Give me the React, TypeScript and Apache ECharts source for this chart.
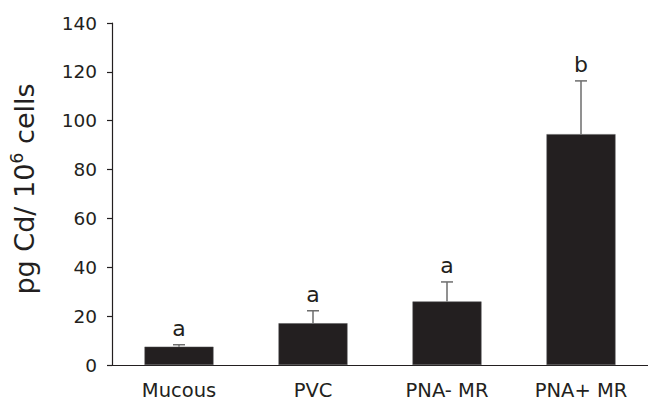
import React, { useEffect, useRef } from "react";
import * as echarts from "echarts";

const categories = ["Mucous", "PVC", "PNA- MR", "PNA+ MR"];
const means = [7.5, 17.1, 26.0, 94.5];
const errorTops = [8.3, 22.2, 34.0, 116.3];
const letters = ["a", "a", "a", "b"];
const yTicks = [0, 20, 40, 60, 80, 100, 120, 140];

const FONT = "DejaVu Sans, sans-serif";
const INK = "#231f20";

export default function App() {
  const ref = useRef<HTMLDivElement>(null);
  useEffect(() => {
    if (!ref.current) return;
    const chart = echarts.init(ref.current, undefined, { renderer: "svg" });
    chart.setOption({
      animation: false,
      backgroundColor: "#ffffff",
      grid: { left: 112, right: -10, top: 23, bottom: 36, containLabel: false },
      xAxis: {
        type: "category",
        data: categories,
        axisLine: { lineStyle: { color: INK, width: 1.2 } },
        axisTick: { show: false },
        axisLabel: { color: INK, fontSize: 19.5, lineHeight: 18, fontFamily: FONT, margin: 16 },
      },
      yAxis: {
        type: "value",
        min: yTicks[0],
        max: yTicks[yTicks.length - 1],
        interval: 20,
        splitLine: { show: false },
        axisLine: { show: true, lineStyle: { color: INK, width: 1.2 } },
        axisTick: { show: true, length: 5, lineStyle: { color: INK, width: 1.2 } },
        axisLabel: { color: INK, fontSize: 18.5, fontFamily: FONT, margin: 15 },
        name: "{a|pg Cd/ 10}{s|6}{a| cells}",
        nameLocation: "middle",
        nameGap: 74,
        nameRotate: 90,
        nameTextStyle: {
          padding: [0, 0, 0, 10],
          rich: {
            a: { fontSize: 27, fontFamily: FONT, color: INK, verticalAlign: "bottom", lineHeight: 30 },
            s: { fontSize: 17.5, fontFamily: FONT, color: INK, verticalAlign: "top", lineHeight: 30, padding: [0, 0, 12, 0] },
          },
        },
      },
      series: [
        {
          type: "bar",
          data: means,
          barWidth: 69,
          itemStyle: { color: INK, borderColor: "#555", borderWidth: 0.5 },
        },
        {
          type: "custom",
          data: categories.map((c, i) => [i, means[i], errorTops[i]]),
          renderItem: (params: any, api: any) => {
            const x = api.value(0);
            const base = api.coord([x, api.value(1)]);
            const top = api.coord([x, api.value(2)]);
            const i = params.dataIndex;
            return {
              type: "group",
              children: [
                {
                  type: "line",
                  shape: { x1: base[0], y1: base[1], x2: top[0], y2: top[1] },
                  style: { stroke: "#6d6d6d", lineWidth: 1.5 },
                },
                {
                  type: "line",
                  shape: { x1: top[0] - 6, y1: top[1], x2: top[0] + 6, y2: top[1] },
                  style: { stroke: "#6d6d6d", lineWidth: 1.5 },
                },
                {
                  type: "text",
                  x: top[0],
                  y: top[1] - 5,
                  style: {
                    text: letters[i],
                    fontSize: 22,
                    fontFamily: FONT,
                    fill: INK,
                    align: "center",
                    verticalAlign: "bottom",
                  },
                },
              ],
            };
          },
          z: 5,
        },
      ],
    });
    return () => chart.dispose();
  }, []);
  return (
    <div
      ref={ref}
      style={{ position: "fixed", left: 0, top: 0, width: 648, height: 401 }}
    />
  );
}
